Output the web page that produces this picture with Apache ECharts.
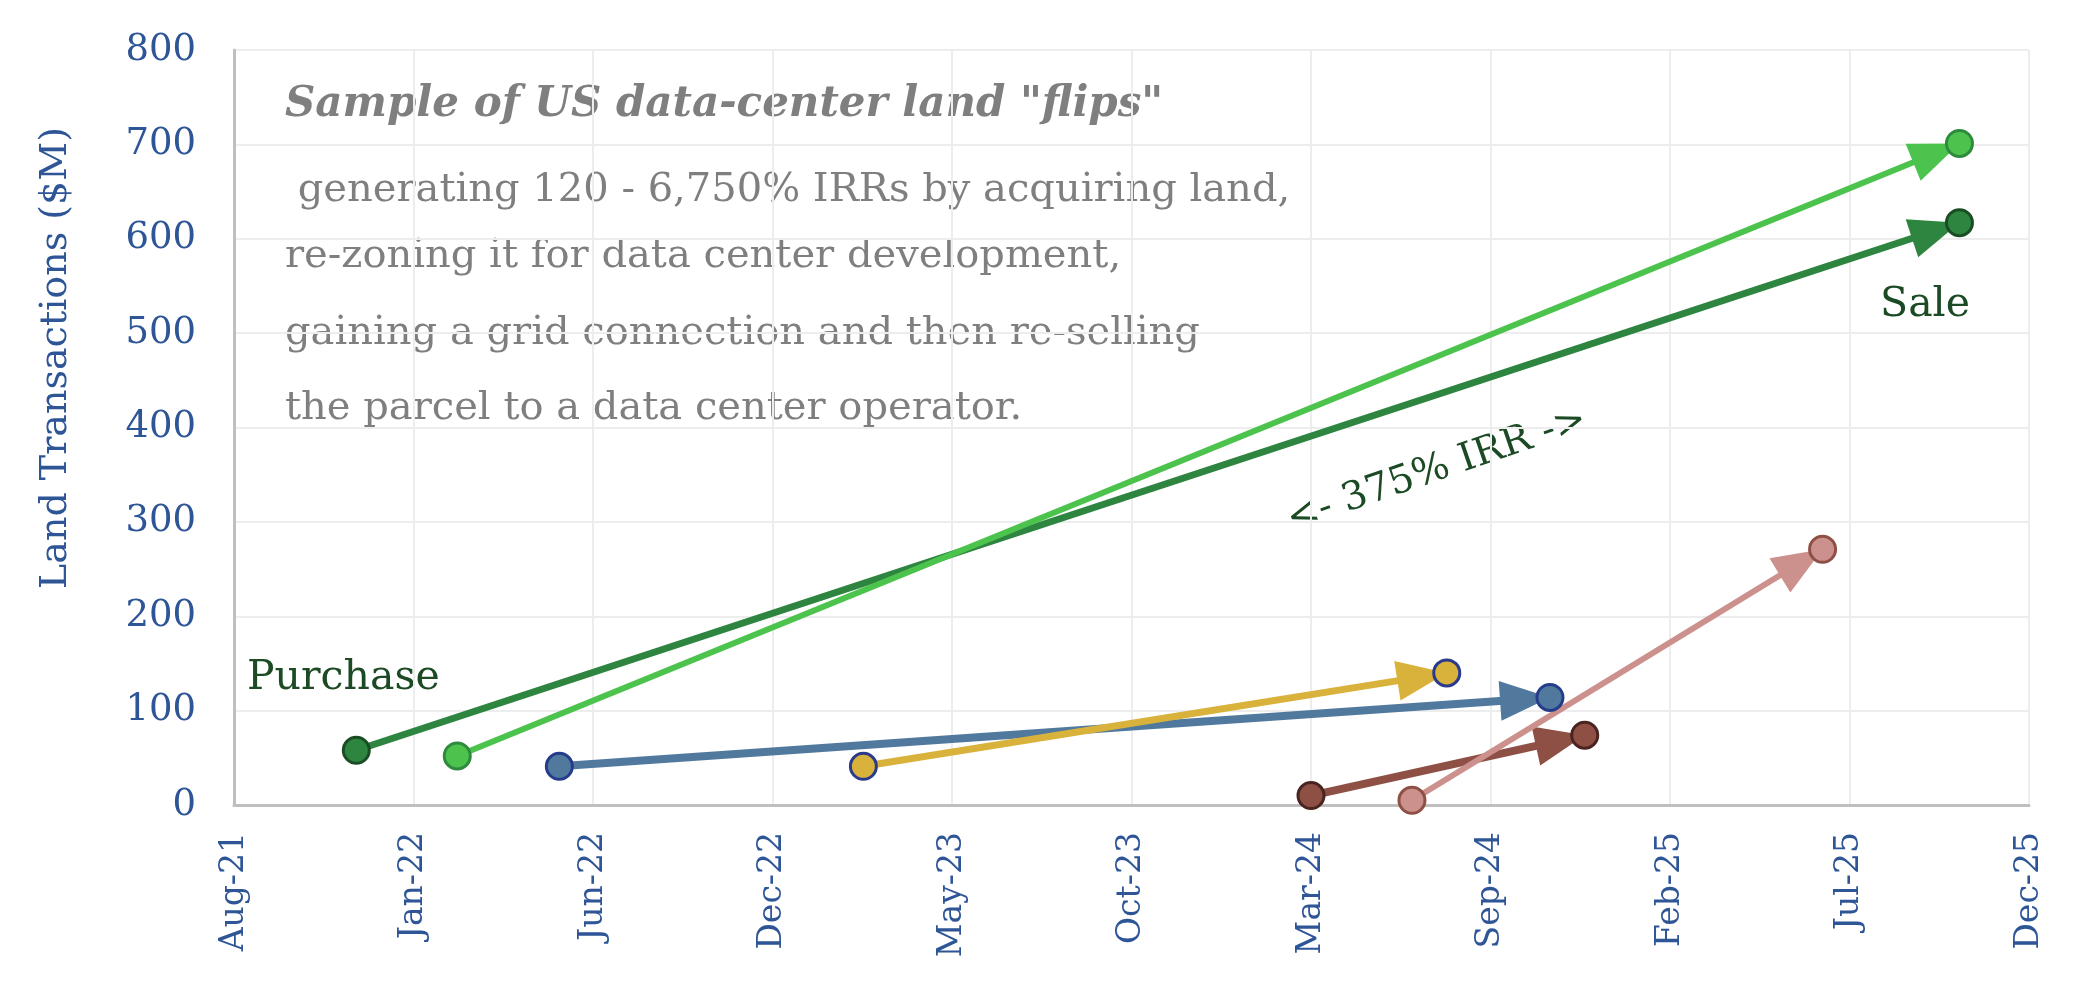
<!DOCTYPE html>
<html>
<head>
<meta charset="utf-8">
<title>US data-center land flips</title>
<script src="https://cdn.jsdelivr.net/npm/echarts@6/dist/echarts.min.js"></script>
<style>
    html, body { margin: 0; padding: 0; background: #fff; }
    #chart { width: 2079px; height: 990px; }
</style>
</head>
<body>
<div id="chart"></div>
<script>
// each flip = one purchase and one sale
const flipNames = ['Flip 1', 'Flip 2', 'Flip 3', 'Flip 4', 'Flip 5', 'Flip 6'];
const buyDates = ['2021-11-27', '2022-02-25', '2022-05-27', '2023-02-22', '2024-03-27', '2024-06-25'];
const buyValues = [58, 52, 41, 41, 10, 5];
const sellDates = ['2025-10-26', '2025-10-26', '2024-10-26', '2024-07-26', '2024-11-26', '2025-06-26'];
const sellValues = [617, 701, 114, 140, 74, 271];

const lineColors = ['#2E8540', '#4CC34C', '#51799E', '#D8B23A', '#8E4F45', '#CC918D'];
const borderColors = ['#1A4D24', '#2E8B3D', '#253C8C', '#2A3A8C', '#4A2420', '#8E4F45'];
const lineWidths = [7, 6, 8, 7, 8, 6];

// x axis is days since the first tick (10 Aug 2021), ticks every 160 days like the excel axis
const axisStart = Date.UTC(2021, 7, 10);
const dayMs = 86400000;
const months = ['Jan', 'Feb', 'Mar', 'Apr', 'May', 'Jun', 'Jul', 'Aug', 'Sep', 'Oct', 'Nov', 'Dec'];

const toDays = (s) => (Date.parse(s + 'T00:00:00Z') - axisStart) / dayMs;
const dayLabel = (v) => {
    const d = new Date(axisStart + v * dayMs);
    return months[d.getUTCMonth()] + '-' + String(d.getUTCFullYear()).slice(2);
};

const blue = '#2E5596';
const serif = 'DejaVu Serif';
const noteGrey = '#7F7F7F';
const annoGreen = '#1B4A25';

let series = [];
flipNames.forEach((name, i) => {
    const p0 = [toDays(buyDates[i]), buyValues[i]];
    const p1 = [toDays(sellDates[i]), sellValues[i]];
    series.push({
        name: name,
        type: 'lines',
        coordinateSystem: 'cartesian2d',
        z: 2,
        // triangle tip sits at the centre of the box so it ends under the marker
        symbol: ['none', 'path://M21,0 M21,50 L42,100 L0,100 Z'],
        symbolSize: [0, [40, 100]],
        lineStyle: { color: lineColors[i], width: lineWidths[i], opacity: 1, curveness: 0 },
        silent: true,
        data: [{ coords: [p0, p1] }]
    });
    series.push({
        name: name,
        type: 'scatter',
        z: 3,
        symbol: 'circle',
        symbolSize: 26,
        itemStyle: { color: lineColors[i], borderColor: borderColors[i], borderWidth: 3, opacity: 1 },
        data: [p0, p1]
    });
});

const chart = echarts.init(document.getElementById('chart'));

const option = {
    backgroundColor: '#fff',
    animation: false,
    grid: { left: 234, right: 50, top: 50, bottom: 185, containLabel: false },
    xAxis: {
        type: 'value',
        min: 0,
        max: 1600,
        interval: 160,
        axisLine: { show: true, lineStyle: { color: '#BFBFBF', width: 3 } },
        axisTick: { show: false },
        splitLine: { show: true, lineStyle: { color: '#EDEDED', width: 2 } },
        axisLabel: {
            rotate: 90,
            margin: 27,
            color: blue,
            fontFamily: serif,
            fontSize: 33,
            formatter: dayLabel
        }
    },
    yAxis: {
        type: 'value',
        min: 0,
        max: 800,
        interval: 100,
        axisLine: { show: true, lineStyle: { color: '#BFBFBF', width: 3 } },
        axisTick: { show: false },
        splitLine: { show: true, lineStyle: { color: '#EDEDED', width: 2 } },
        axisLabel: {
            margin: 38,
            color: blue,
            fontFamily: serif,
            fontSize: 37
        }
    },
    graphic: [
        {
            type: 'text', x: 56, y: 358, rotation: Math.PI / 2,
            style: { text: 'Land Transactions ($M)', fill: blue, font: '38px "DejaVu Serif"', align: 'center', verticalAlign: 'middle' }
        },
        {
            type: 'text', x: 285, y: 105,
            style: { text: 'Sample of US data-center land "flips"', fill: noteGrey, font: 'italic bold 42px "DejaVu Serif"', verticalAlign: 'middle' }
        },
        {
            type: 'text', x: 285, y: 191,
            style: { text: ' generating 120 - 6,750% IRRs by acquiring land,', fill: noteGrey, font: '40px "DejaVu Serif"', verticalAlign: 'middle' }
        },
        {
            type: 'text', x: 285, y: 257,
            style: { text: 're-zoning it for data center development,', fill: noteGrey, font: '40px "DejaVu Serif"', verticalAlign: 'middle' }
        },
        {
            type: 'text', x: 285, y: 334,
            style: { text: 'gaining a grid connection and then re-selling', fill: noteGrey, font: '40px "DejaVu Serif"', verticalAlign: 'middle' }
        },
        {
            type: 'text', x: 285, y: 409,
            style: { text: 'the parcel to a data center operator.', fill: noteGrey, font: '40px "DejaVu Serif"', verticalAlign: 'middle' }
        },
        {
            type: 'text', x: 247, y: 678,
            style: { text: 'Purchase', fill: annoGreen, font: '41px "DejaVu Serif"', verticalAlign: 'middle' }
        },
        {
            type: 'text', x: 1925, y: 305,
            style: { text: 'Sale', fill: annoGreen, font: '41px "DejaVu Serif"', align: 'center', verticalAlign: 'middle' }
        },
        {
            type: 'text', x: 1437, y: 470, rotation: 19 * Math.PI / 180,
            style: { text: '<- 375% IRR ->', fill: annoGreen, font: '39px "DejaVu Serif"', align: 'center', verticalAlign: 'middle' }
        }
    ],
    series: series
};

chart.setOption(option);
</script>
</body>
</html>
